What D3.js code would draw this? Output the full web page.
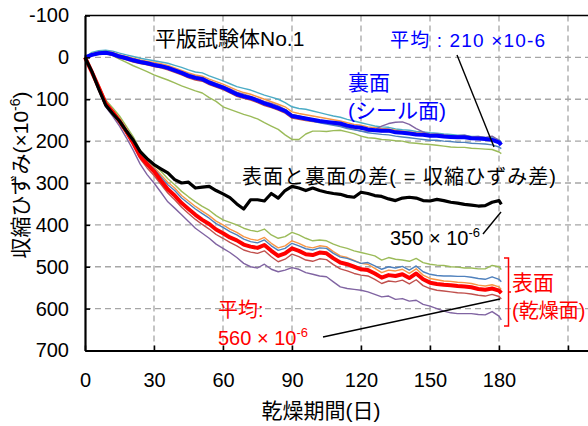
<!DOCTYPE html>
<html>
<head>
<meta charset="utf-8">
<script src="https://cdn.jsdelivr.net/npm/d3@7"></script>
<style>
  html, body { margin: 0; padding: 0; background: #fff; }
  svg { display: block; font-family: "Liberation Sans", "Noto Sans CJK JP", sans-serif; }
</style>
</head>
<body>
<svg id="chart" width="588" height="426"></svg>
<script>
// Drying period (days) at which strains are plotted
const days = [0,3,6,9,12,15,18,21,24,27,30,33,36,39,42,45,48,51,54,57,60,63,66,69,72,75,78,81,84,87,90,93,96,99,102,105,108,111,114,117,120,123,126,129,132,135,138,141,144,147,150,153,156,159,162,165,168,171,174,177,180,181];

// Back face (sealed) gauges, ×10^-6
const backCyan   = [0,-12,-16,-17,-15,-10,-6,-2,2,5,8,11,14,19,24,30,35,37,44,50,56,63,70,74,78,84,90,95,100,108,118,122,124,128,132,136,140,143,148,152,156,160,164,166,167,171,173,174,177,178,180,181,183,184,186,186,189,189,191,192,197,202];
const backOrange = [0,-9,-13,-14,-12,-6,-2,2,6,9,12,15,19,25,31,37,42,45,52,58,64,71,78,84,88,94,100,106,112,118,130,134,137,140,143,146,149,152,156,160,162,166,168,170,171,174,176,178,180,181,184,184,186,187,189,189,191,192,193,195,201,206];
const backPurple = [0,-8,-12,-13,-11,-5,-1,4,8,11,15,18,22,28,34,40,45,48,56,62,68,75,83,88,93,99,105,110,116,124,136,140,144,148,151,155,159,163,168,172,176,178,172,164,158,155,154,160,170,178,184,183,185,188,187,186,190,189,191,188,198,204];
const backRed    = [0,-4,-8,-9,-5,1,6,11,15,18,22,25,30,36,42,49,54,57,65,71,77,85,93,98,102,108,115,120,126,133,145,148,151,153,155,157,159,161,165,168,170,174,176,177,177,180,181,183,185,186,187,188,190,191,192,192,194,195,196,198,204,208];
const backBlue   = [0,-5,-9,-10,-7,-1,3,8,12,15,19,22,26,32,38,45,50,53,61,67,73,81,89,94,98,104,111,116,122,129,141,145,149,152,156,159,162,165,170,173,176,180,182,184,185,188,190,192,194,196,198,198,200,201,203,203,205,206,207,209,214,218];
const backGreen  = [0,-8,-10,-9,-4,4,12,20,27,34,42,48,54,61,68,74,80,85,96,105,118,124,130,136,141,147,156,164,172,185,196,196,183,176,176,177,175,174,178,182,188,192,193,196,197,199,200,204,205,207,208,210,212,214,215,215,217,218,219,220,226,230];
const backAvg    = [0,-6,-10,-11,-8,-2,2,7,11,14,18,21,25,31,37,44,49,52,60,66,72,80,88,93,97,103,110,115,121,128,140,143,146,149,152,154,156,158,163,166,168,172,174,175,175,179,180,182,184,185,187,187,189,190,191,191,193,194,195,197,203,209];

// Front face (drying side) gauges, ×10^-6
const frontGreen  = [0,32,66,102,120,140,165,190,222,240,255,272,290,304,320,333,345,356,365,378,388,394,400,408,413,416,410,424,432,428,418,424,432,438,436,438,446,452,456,462,466,470,474,484,478,482,484,487,480,490,494,496,497,500,501,503,503,505,505,497,500,507];
const frontOrange = [0,34,70,107,126,147,172,196,228,248,262,280,298,312,330,343,356,367,378,391,400,410,418,428,434,437,430,444,455,450,438,444,452,455,450,452,464,474,478,485,492,494,504,514,508,510,506,516,505,520,528,531,534,535,537,538,540,544,546,543,548,554];
const frontBlue   = [0,35,71,108,128,149,174,198,230,251,266,285,304,318,336,349,362,373,384,397,406,416,424,434,440,443,436,450,461,456,444,450,457,460,455,456,468,477,480,486,492,490,498,506,500,503,499,508,498,512,518,521,522,522,523,523,525,528,530,524,530,536];
const frontRed    = [0,36,74,113,134,156,182,208,242,264,282,303,324,340,358,373,387,399,410,423,432,442,450,460,465,468,462,476,488,482,470,476,484,487,481,483,495,505,510,516,520,522,530,540,534,536,532,541,531,545,552,556,558,560,562,563,565,568,570,566,571,577];
const frontPurple = [0,38,78,118,140,164,192,222,255,280,300,322,345,360,376,392,408,420,432,446,456,466,478,492,500,503,494,506,512,508,502,506,514,518,522,524,536,548,552,554,556,560,566,572,570,578,576,582,580,590,594,600,606,610,612,612,612,614,615,607,618,627];
const frontAvg    = [0,35,72,110,130,152,177,205,236,255,272,294,315,330,348,362,376,388,398,411,420,430,437,447,452,455,448,462,474,468,456,462,470,472,466,468,480,490,494,500,506,508,516,526,520,522,518,527,516,530,538,541,543,544,546,547,549,553,555,552,557,563];

// Difference between the two faces (= differential shrinkage)
const diffLine = [0,34,76,114,134,152,176,198,225,242,256,266,276,292,300,298,312,310,308,318,326,335,350,362,340,340,343,325,336,318,308,312,318,312,318,322,325,327,332,334,322,325,330,332,338,342,336,334,336,342,343,339,342,346,348,351,353,355,354,346,342,351];

const xTicks = [0,30,60,90,120,150,180,210];
const xTickLabels = ["0","30","60","90","120","150","180",""];
const yTicks = [-100,0,100,200,300,400,500,600,700];
const yTickLabels = ["-100","0","100","200","300","400","500","600","700"];

const thinBack = [
  {v: backGreen,  c: "#9BBB59"},
  {v: backCyan,   c: "#4BACC6"},
  {v: backOrange, c: "#F79646"},
  {v: backPurple, c: "#8064A2"},
  {v: backRed,    c: "#C0504D"},
  {v: backBlue,   c: "#4F81BD"}
];
const thinFront = [
  {v: frontGreen,  c: "#9BBB59"},
  {v: frontPurple, c: "#8064A2"},
  {v: frontOrange, c: "#F79646"},
  {v: frontRed,    c: "#C0504D"},
  {v: frontBlue,   c: "#4F81BD"}
];

const svg = d3.select("#chart");
const L = 85, R = 637, T = 15.5, B = 350.5;
const x = d3.scaleLinear().domain([0, 240]).range([L, R]);
const y = d3.scaleLinear().domain([-100, 700]).range([T, B]);

// dashed grid
const grid = svg.append("g");
grid.selectAll("line.h").data(yTicks.filter(d => d > -100 && d < 700)).join("line")
  .attr("x1", L).attr("x2", R).attr("y1", d => y(d)).attr("y2", d => y(d))
  .attr("stroke", "#a6a6a6").attr("stroke-width", 1.3).attr("stroke-dasharray", "6,4");
grid.selectAll("line.v").data(xTicks.filter(d => d > 0)).join("line")
  .attr("x1", d => x(d)).attr("x2", d => x(d)).attr("y1", T).attr("y2", B)
  .attr("stroke", "#a6a6a6").attr("stroke-width", 1.3).attr("stroke-dasharray", "6,4");

// data lines
const line = vals => d3.line().x((d, i) => x(days[i])).y(d => y(d))(vals);
const g = svg.append("g").attr("fill", "none").attr("stroke-linejoin", "round");
thinBack.forEach(s => g.append("path").attr("d", line(s.v)).attr("stroke", s.c).attr("stroke-width", 1.4));
g.append("path").attr("d", line(backAvg)).attr("stroke", "#0000FF").attr("stroke-width", 4);
thinFront.forEach(s => g.append("path").attr("d", line(s.v)).attr("stroke", s.c).attr("stroke-width", 1.4));
g.append("path").attr("d", line(frontAvg)).attr("stroke", "#FF0000").attr("stroke-width", 4);
g.append("path").attr("d", line(diffLine)).attr("stroke", "#000").attr("stroke-width", 3.2);

// frame and axes
svg.append("line").attr("x1", L).attr("x2", 588).attr("y1", T).attr("y2", T).attr("stroke", "#000").attr("stroke-width", 1.5);
const yAxis = d3.axisLeft(y).tickValues(yTicks).tickSizeInner(-5).tickSizeOuter(0).tickPadding(16)
  .tickFormat((d, i) => yTickLabels[i]);
const ya = svg.append("g").attr("transform", `translate(${L},0)`).call(yAxis);
ya.select(".domain").attr("stroke-width", 2.2);
ya.selectAll(".tick line").attr("stroke-width", 1.5);
ya.selectAll("text").attr("font-size", 20).attr("font-family", "Liberation Sans").attr("fill", "#000");

const xAxis = d3.axisBottom(x).tickValues(xTicks).tickSizeInner(-5).tickSizeOuter(0).tickPadding(22)
  .tickFormat((d, i) => xTickLabels[i]);
const xa = svg.append("g").attr("transform", `translate(0,${B})`).call(xAxis);
xa.select(".domain").attr("stroke-width", 2.2);
xa.selectAll(".tick line").attr("stroke-width", 1.5);
xa.selectAll("text").attr("font-size", 20).attr("font-family", "Liberation Sans").attr("fill", "#000");

// axis titles
svg.append("text").attr("x", 321).attr("y", 418).attr("text-anchor", "middle")
  .attr("font-size", 21).text("乾燥期間(日)");
const yt = svg.append("text").attr("transform", "translate(28,175) rotate(-90)")
  .attr("text-anchor", "middle").attr("font-size", 21);
yt.append("tspan").text("収縮ひずみ(×10");
yt.append("tspan").attr("dy", -8).attr("font-size", 14).text("-6");
yt.append("tspan").attr("dy", 8).text(")");

// annotations
const txt = (xp, yp, s, size, color) => svg.append("text").attr("x", xp).attr("y", yp)
  .attr("font-size", size).attr("fill", color).text(s);
txt(155, 46, "平版試験体No.1", 21, "#000");
txt(390, 47, "平均 : 210 ×10-6", 19, "#0000FF").attr("textLength", 155);
txt(348, 90, "裏面", 21, "#0000FF");
txt(348, 118, "(シール面)", 21, "#0000FF");
txt(242, 184, "表面と裏面の差( = 収縮ひずみ差)", 20, "#000").attr("textLength", 314);

const t350 = svg.append("text").attr("x", 390).attr("y", 245).attr("font-size", 20);
t350.append("tspan").text("350 × 10");
t350.append("tspan").attr("dy", -8).attr("font-size", 13).text("-6");

txt(218, 317, "平均:", 20, "#FF0000");
const t560 = svg.append("text").attr("x", 218).attr("y", 345).attr("font-size", 20).attr("fill", "#FF0000");
t560.append("tspan").text("560 × 10");
t560.append("tspan").attr("dy", -8).attr("font-size", 13).text("-6");

txt(512, 290, "表面", 21, "#FF0000");
txt(512, 318, "(乾燥面)", 20, "#FF0000");

// leader lines
const lead = (x1, y1, x2, y2) => svg.append("line").attr("x1", x1).attr("y1", y1).attr("x2", x2).attr("y2", y2)
  .attr("stroke", "#000").attr("stroke-width", 1.4);
lead(457, 55, 494, 147);
lead(483, 234, 501, 212);
lead(323, 337, 500, 299);

// bracket grouping the front-face gauges
svg.append("path").attr("d", "M504,258 H508.5 V326 H504 M508.5,292 H511")
  .attr("fill", "none").attr("stroke", "#FF0000").attr("stroke-width", 1.5);
</script>
</body>
</html>
